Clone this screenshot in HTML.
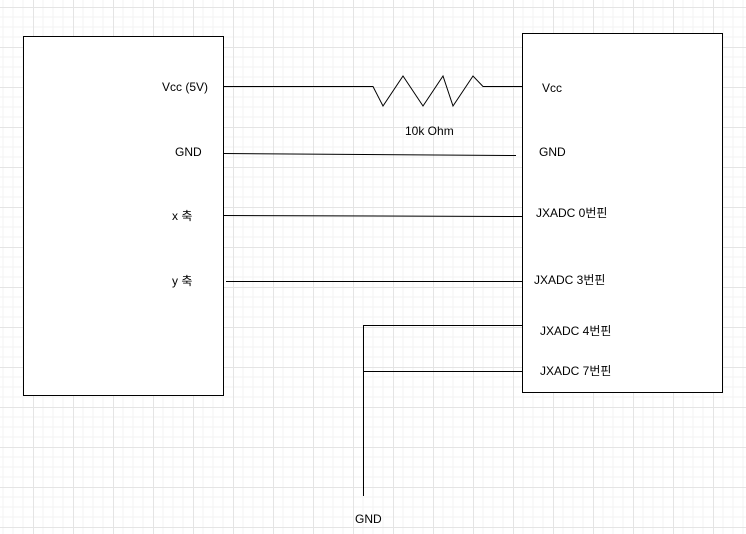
<!DOCTYPE html>
<html><head><style>
body{margin:0;background:#fff}
svg{display:block}
text{font-family:"Liberation Sans","Noto Sans CJK KR",sans-serif;font-size:12px;fill:#000}
</style></head><body>
<svg width="746" height="534" xmlns="http://www.w3.org/2000/svg">
<defs>
<pattern id="g" x="33" y="7" width="40" height="40" patternUnits="userSpaceOnUse">
<path d="M10 0V40M20 0V40M30 0V40M0 10H40M0 20H40M0 30H40" stroke="#f3f3f3" stroke-width="1"/>
<path d="M0.5 0V40M0 0.5H40" stroke="#e4e4e4" stroke-width="1"/>
</pattern>
</defs>
<rect width="746" height="534" fill="url(#g)"/>
<rect x="23.5" y="36.5" width="200" height="359" fill="#fff" stroke="#000"/>
<rect x="522.5" y="33.5" width="200" height="359" fill="#fff" stroke="#000"/>
<g stroke="#000" fill="none" stroke-width="1">
<polyline points="223,86.5 373,86.5 383,106 403,76 423,106 443,76 453,106 473,76 483,86.5 522,86.5"/>
<line x1="223" y1="153.5" x2="516" y2="155.5"/>
<line x1="223" y1="215.5" x2="522" y2="216.5"/>
<line x1="226" y1="281.5" x2="522" y2="281.5"/>
<polyline points="522,325.5 363.5,325.5 363.5,496"/>
<line x1="363" y1="371.5" x2="522" y2="371.5"/>
</g>
<text x="162" y="91">Vcc (5V)</text>
<text x="175" y="156">GND</text>
<text x="172" y="220">x 축</text>
<text x="172" y="285">y 축</text>
<text x="542" y="92">Vcc</text>
<text x="539" y="156">GND</text>
<text x="536" y="217">JXADC 0번핀</text>
<text x="534" y="284">JXADC 3번핀</text>
<text x="540" y="335">JXADC 4번핀</text>
<text x="540" y="375">JXADC 7번핀</text>
<text x="405" y="135">10k Ohm</text>
<text x="355" y="523">GND</text>
</svg>
</body></html>
